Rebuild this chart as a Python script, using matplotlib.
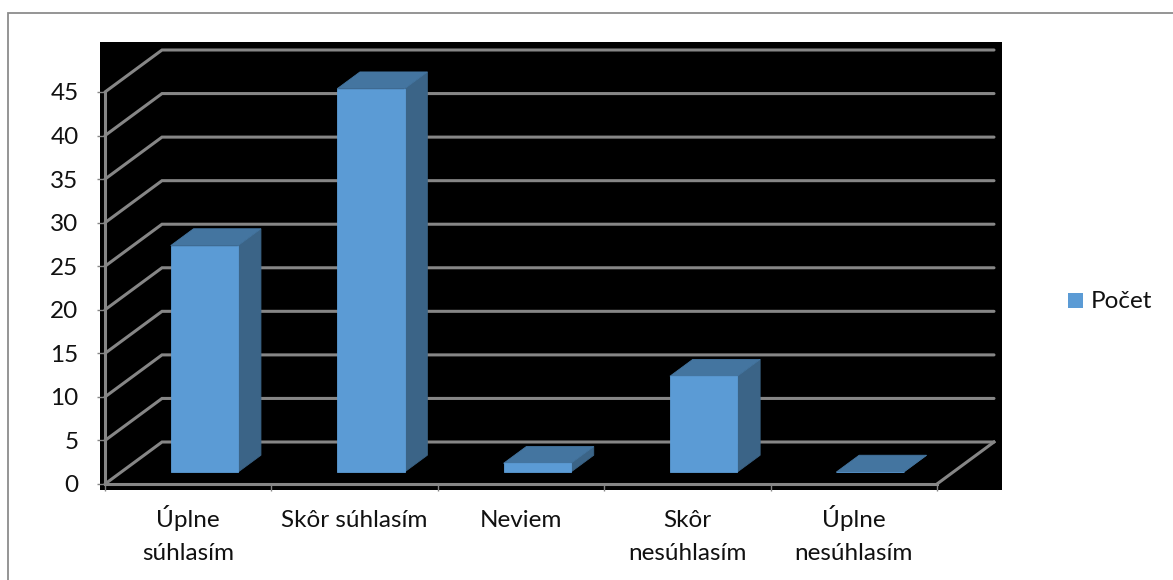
import matplotlib
matplotlib.use('Agg')
import matplotlib.pyplot as plt
from matplotlib.patches import Polygon, Rectangle

categories = ["Úplne\nsúhlasím", "Skôr súhlasím", "Neviem", "Skôr\nnesúhlasím", "Úplne\nnesúhlasím"]
counts = [26, 44, 1, 11, 0]
y_ticks = [0, 5, 10, 15, 20, 25, 30, 35, 40, 45]
series_name = "Počet"

W, H = 1173, 580
FRONT, SIDE, TOP = '#5b9bd5', '#3b6487', '#4475a0'
GRID = '#868686'
INK = '#111111'
TEXT_SIZE = 17.5

plt.rcParams['font.family'] = ['Lato', 'DejaVu Sans']

fig = plt.figure(figsize=(W / 100, H / 100), dpi=100)

# outer frame and black plot background live in figure pixels, behind the axes
fig.add_artist(Rectangle((7.5 / W, -0.1), 1.2, 1 - 12.5 / H + 0.1, transform=fig.transFigure,
                         fc='white', ec='#8c8c8c', lw=1.3, zorder=-2))
fig.add_artist(Rectangle((100 / W, 1 - 490 / H), 902 / W, 448 / H, transform=fig.transFigure,
                         fc='black', ec='none', zorder=-1))

ax = fig.add_axes([105 / W, 1 - 484 / H, 832 / W, 392 / H])
ax.patch.set_visible(False)
ax.set_xlim(0, 5)
ax.set_ylim(0, 45)

# oblique projection: how far the full floor depth shifts a point, in data units
depth_x = 57 / (832 / 5)
depth_y = 42 / (392 / 45)
bar_width = 0.405
bar_start = 0.285   # depth of the bar front face
bar_depth = 0.40    # depth of the bar itself


def project(x, y, d):
    return x + d * depth_x, y + d * depth_y


def face(points, d_color, z=3):
    ax.add_patch(Polygon(points, closed=True, fc=d_color, ec=d_color, lw=0.6, zorder=z, clip_on=False))


# walls
for t in y_ticks:
    x0, y0 = project(0, t, 0)
    x1, y1 = project(0, t, 1)
    x2, y2 = project(5, t, 1)
    ax.plot([x0, x1, x2], [y0, y1, y2], color=GRID, lw=2.2, zorder=1, clip_on=False,
            solid_joinstyle='miter', solid_capstyle='round')
fx, fy = project(5, 0, 1)
ax.plot([5, fx], [0, fy], color=GRID, lw=2.2, zorder=1, clip_on=False)

# bars
for i, value in enumerate(counts):
    left = i + 0.5 - bar_width / 2
    right = left + bar_width
    a = project(left, 0, bar_start)
    b = project(right, 0, bar_start)
    c = project(right, value, bar_start)
    d = project(left, value, bar_start)
    e = project(right, 0, bar_start + bar_depth)
    f = project(right, value, bar_start + bar_depth)
    g = project(left, value, bar_start + bar_depth)
    face([a, b, c, d], FRONT, 4)
    face([b, e, f, c], SIDE, 3)
    face([d, c, f, g], TOP, 3)

ax.set_xticks(range(6))
ax.set_xticklabels([])
ax.tick_params(axis='x', which='major', length=5, width=1, color=GRID, direction='out')
ax.set_yticks(y_ticks)
ax.tick_params(axis='y', length=6, width=1, color=GRID, labelsize=TEXT_SIZE, labelcolor=INK, pad=13)
for lab in ax.get_yticklabels():
    lab.set_verticalalignment('center_baseline')

# category labels, line by line so first-line baselines agree with or without accents
for i, label in enumerate(categories):
    for n, line in enumerate(label.split("\n")):
        ax.annotate(line, (i + 0.5, 0), xycoords=ax.get_xaxis_transform(),
                    xytext=(0, -(43 + n * 33) * 0.72), textcoords='offset points',
                    ha='center', va='baseline', fontsize=TEXT_SIZE, color=INK, annotation_clip=False)

for s in ['top', 'right']:
    ax.spines[s].set_visible(False)
for s in ['left', 'bottom']:
    ax.spines[s].set_color(GRID)
    ax.spines[s].set_linewidth(2.2)
    ax.spines[s].set_zorder(2)

# legend
fig.add_artist(Rectangle((1068 / W, 1 - 308 / H), 15 / W, 15 / H, transform=fig.transFigure, fc=FRONT, ec='none'))
fig.text(1091 / W, 1 - 308 / H, series_name, fontsize=TEXT_SIZE, color=INK, va='baseline', ha='left')

fig.savefig('out.png', dpi=100)
